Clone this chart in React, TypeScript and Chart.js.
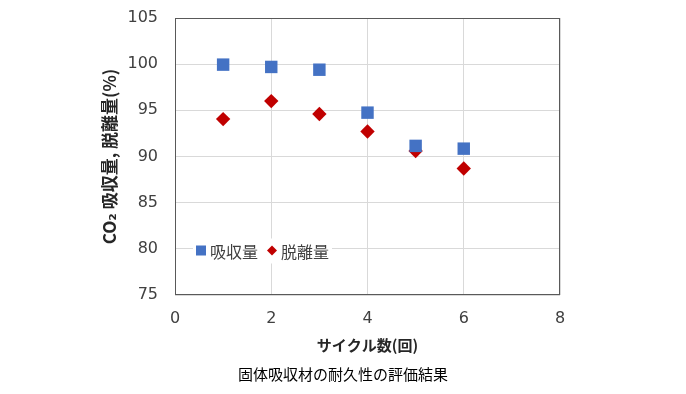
import React, { useEffect, useRef } from 'react';
import { Chart, registerables } from 'chart.js';

Chart.register(...registerables);

// ---- data ----
const cycles = [1, 2, 3, 4, 5, 6];
const absorption = [99.95, 99.7, 99.4, 94.75, 91.15, 90.85];
const desorption = [94.05, 96.0, 94.6, 92.7, 90.6, 88.7];
const seriesLabels = ['吸収量', '脱離量'];
const seriesColors = ['#4472C4', '#C00000'];
const xTitle = 'サイクル数(回)';
const yTitle = 'CO₂ 吸収量, 脱離量(%)';
const caption = '固体吸収材の耐久性の評価結果';
const xMin = 0, xMax = 8, xStep = 2;
const yMin = 75, yMax = 105, yStep = 5;

const TICK_FONT = "'DejaVu Sans', 'Noto Sans CJK JP', sans-serif";
const JP_FONT = "'Noto Sans CJK JP', 'DejaVu Sans', sans-serif";

const areaBorder = {
  id: 'areaBorder',
  afterDraw(chart: any) {
    const { ctx, chartArea } = chart;
    const l = Math.round(chartArea.left) + 0.5;
    const t = Math.round(chartArea.top) + 0.5;
    const r = Math.round(chartArea.right) - 0.5;
    const b = Math.round(chartArea.bottom) - 0.5;
    ctx.save();
    ctx.strokeStyle = '#595959';
    ctx.lineWidth = 1;
    ctx.strokeRect(l, t, r - l, b - t);
    ctx.restore();
  },
};

const captionPlugin = {
  id: 'captionPlugin',
  afterDraw(chart: any) {
    const { ctx } = chart;
    ctx.save();
    ctx.font = `15px ${JP_FONT}`;
    ctx.fillStyle = '#000000';
    ctx.textAlign = 'center';
    ctx.textBaseline = 'middle';
    ctx.fillText(caption, chart.width / 2, 374);
    ctx.restore();
  },
};

const insideLegend = {
  id: 'insideLegend',
  afterDatasetsDraw(chart: any) {
    const { ctx, chartArea } = chart;
    const datasets = chart.data.datasets;
    ctx.save();
    ctx.font = `16px ${JP_FONT}`;
    ctx.textBaseline = 'middle';
    const startX = chartArea.left + 21;
    const yc = chartArea.bottom - 44.5;
    const marker = 10;
    const gapText = 4;
    const gapItem = 9;
    let total = 0;
    const widths = datasets.map((ds: any) => ctx.measureText(ds.label).width);
    widths.forEach((w: number, i: number) => {
      total += marker + gapText + w + (i < widths.length - 1 ? gapItem : 0);
    });
    ctx.fillStyle = '#ffffff';
    ctx.fillRect(startX - 3, yc - 12, total + 6, 25);
    let x = startX;
    datasets.forEach((ds: any, i: number) => {
      ctx.fillStyle = ds.backgroundColor;
      if (ds.pointStyle === 'rectRot') {
        const h = 5;
        const cx = x + marker / 2;
        ctx.beginPath();
        ctx.moveTo(cx - h, yc);
        ctx.lineTo(cx, yc - h);
        ctx.lineTo(cx + h, yc);
        ctx.lineTo(cx, yc + h);
        ctx.closePath();
        ctx.fill();
      } else {
        ctx.fillRect(x, yc - marker / 2, marker, marker);
      }
      x += marker + gapText;
      ctx.fillStyle = '#404040';
      ctx.textAlign = 'left';
      ctx.fillText(ds.label, x, yc + 1);
      x += widths[i] + gapItem;
    });
    ctx.restore();
  },
};

export default function App() {
  const ref = useRef<HTMLCanvasElement | null>(null);

  useEffect(() => {
    document.body.style.margin = '0';
    if (!ref.current) return;
    const chart = new Chart(ref.current, {
      type: 'scatter',
      data: {
        datasets: [
          {
            label: seriesLabels[0],
            data: cycles.map((c, i) => ({ x: c, y: absorption[i] })),
            backgroundColor: seriesColors[0],
            borderColor: seriesColors[0],
            pointStyle: 'rect',
            pointRadius: 8.8,
            pointBorderWidth: 0,
          },
          {
            label: seriesLabels[1],
            data: cycles.map((c, i) => ({ x: c, y: desorption[i] })),
            backgroundColor: seriesColors[1],
            borderColor: seriesColors[1],
            pointStyle: 'rectRot',
            pointRadius: 7.2,
            pointBorderWidth: 0,
          },
        ],
      },
      options: {
        animation: false,
        responsive: false,
        events: [],
        layout: { padding: { left: 0, right: 126, top: 18, bottom: 0 } },
        plugins: {
          legend: { display: false },
          tooltip: { enabled: false },
          title: { display: false },
        },
        scales: {
          x: {
            type: 'linear',
            min: xMin,
            max: xMax,
            ticks: {
              stepSize: xStep,
              padding: 14,
              color: '#404040',
              font: { family: TICK_FONT, size: 16 },
            },
            grid: { color: '#d9d9d9', drawTicks: false },
            border: { display: false },
            title: {
              display: true,
              text: xTitle,
              color: '#262626',
              font: { family: JP_FONT, size: 15, weight: 'bold' },
              padding: { top: 0, bottom: 40 },
            },
            afterFit: (s: any) => {
              s.height = 99;
              s.paddingLeft = 0;
              s.paddingRight = 0;
            },
          },
          y: {
            type: 'linear',
            min: yMin,
            max: yMax,
            ticks: {
              stepSize: yStep,
              padding: 17,
              color: '#404040',
              font: { family: TICK_FONT, size: 16 },
            },
            grid: { color: '#d9d9d9', drawTicks: false },
            border: { display: false },
            title: {
              display: true,
              text: yTitle,
              color: '#262626',
              font: { family: JP_FONT, size: 17, weight: 'bold' },
              padding: { top: 99, bottom: 0 },
            },
            afterFit: (s: any) => {
              s.width = 175;
              s.paddingTop = 0;
              s.paddingBottom = 0;
            },
          },
        },
      },
      plugins: [areaBorder, insideLegend, captionPlugin],
    } as any);
    return () => chart.destroy();
  }, []);

  return (
    <div style={{ width: 686, height: 394 }}>
      <canvas ref={ref} width={686} height={394} style={{ display: 'block' }} />
    </div>
  );
}
